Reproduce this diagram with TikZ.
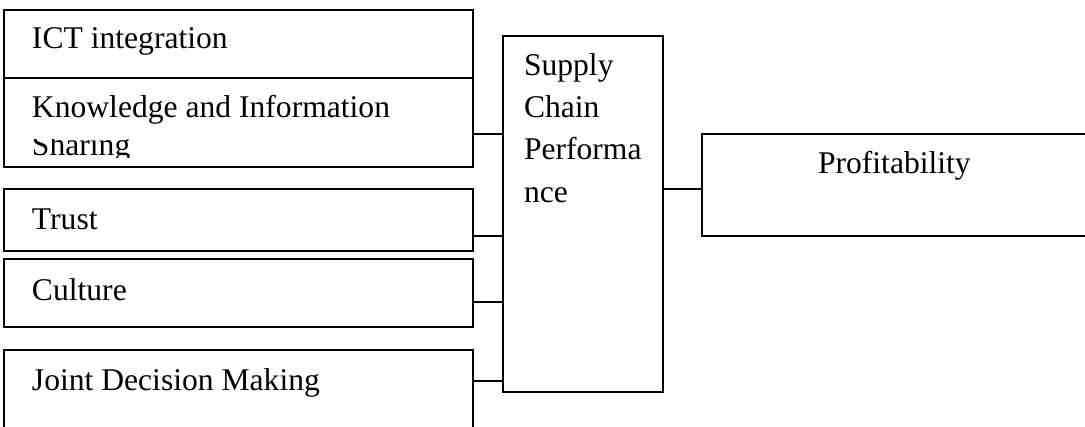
\documentclass[tikz,border=0pt]{standalone}
\usepackage{fontspec}
\setmainfont{Liberation Serif}
\begin{document}
\begin{tikzpicture}[x=0.5pt,y=-0.5pt,
  box/.style={draw=black,line width=0.65pt,minimum width=234.5pt,inner sep=0pt,outer sep=0pt},
  lbl/.style={anchor=base west,inner sep=0pt,outer sep=0pt,font=\fontsize{15.8}{19}\selectfont},
  link/.style={draw=black,line width=0.7pt}]
\useasboundingbox (0,0) rectangle (1085,427);
\clip (0,0) rectangle (1085,427);
% left boxes
\node[box,minimum height=34pt] (ict) at (238.5,44) {};
\node[box,minimum height=44.5pt] (kn) at (238.5,122.5) {};
\node[box,minimum height=31pt] (tr) at (238.5,220) {};
\node[box,minimum height=34pt] (cu) at (238.5,293) {};
\node[box,minimum height=45pt] (jd) at (238.5,395) {};
% central and right boxes
\node[box,minimum width=80pt,minimum height=178pt] (scp) at (583,214) {};
\node[box,minimum width=199pt,minimum height=51pt] (pr) at (901,185) {};
% texts
\node[lbl] (t1) at (32,49) {ICT integration};
\node[lbl] (t2) at (32,118) {Knowledge and Information};
\begin{scope}
\clip (0,140) rectangle (470,157.5);
\node[lbl] (t3) at (32,155.3) {Sharing};
\end{scope}
\node[lbl] (t4) at (32,229) {Trust};
\node[lbl] (t5) at (32,300) {Culture};
\node[lbl] (t6) at (32,390) {Joint Decision Making};
\node[lbl] (s1) at (524,76) {Supply};
\node[lbl] (s2) at (524,118) {Chain};
\node[lbl] (s3) at (524,160) {Performa};
\node[lbl] (s4) at (524,203) {nce};
\node[lbl] (p1) at (818,174) {Profitability};
% connectors
\draw[link] ([yshift=-5.75pt]kn.east) -- ([yshift=-5.75pt]kn.east -| scp.west);
\draw[link] ([yshift=-8pt]tr.east) -- ([yshift=-8pt]tr.east -| scp.west);
\draw[link] ([yshift=-4.5pt]cu.east) -- ([yshift=-4.5pt]cu.east -| scp.west);
\draw[link] ([yshift=7pt]jd.east) -- ([yshift=7pt]jd.east -| scp.west);
\draw[link] ([yshift=12.5pt]scp.east) -- ([yshift=12.5pt]scp.east -| pr.west);
\end{tikzpicture}
\end{document}
